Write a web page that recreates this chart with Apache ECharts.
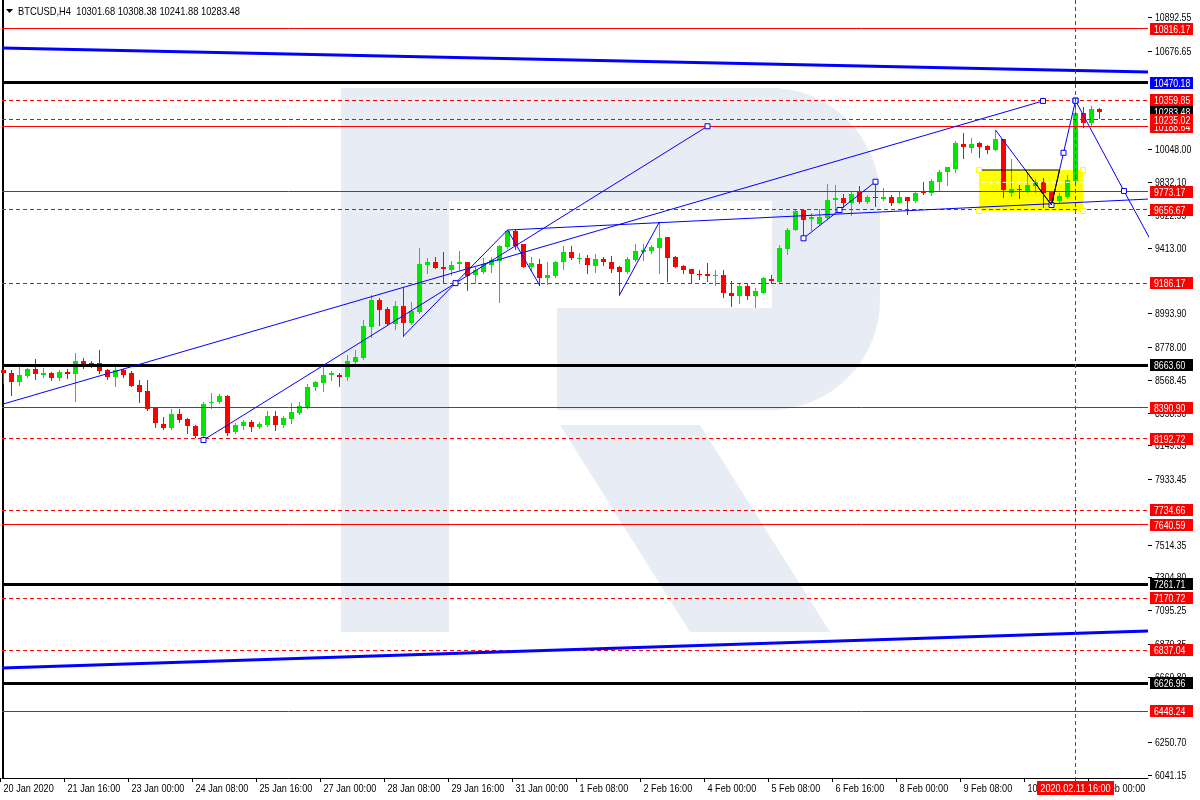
<!DOCTYPE html>
<html><head><meta charset="utf-8"><title>BTCUSD,H4</title>
<script src="https://cdn.jsdelivr.net/npm/echarts@6.0.0/dist/echarts.min.js"></script>
<style>html,body{margin:0;padding:0;background:#fff;}#chart{width:1200px;height:800px;}</style>
</head><body><div id="chart"></div>
<script>
const symbolName = 'BTCUSD,H4';
const opens  = [8632,8615,8557,8596,8636,8602,8615,8579,8621,8605,8690,8679,8675,8632,8585,8632,8615,8536,8498,8387,8286,8263,8350,8318,8274,8210,8419,8429,8466,8237,8274,8301,8269,8280,8338,8280,8318,8359,8397,8521,8551,8598,8602,8585,8685,8707,8909,9080,9022,8926,9042,8935,9005,9306,9325,9289,9272,9308,9321,9240,9261,9304,9332,9421,9524,9438,9293,9310,9223,9236,9321,9385,9342,9351,9300,9342,9325,9293,9261,9336,9389,9394,9415,9481,9357,9300,9278,9246,9244,9236,9240,9127,9106,9170,9106,9127,9214,9197,9406,9528,9656,9597,9566,9603,9720,9731,9703,9769,9709,9741,9726,9737,9703,9737,9716,9769,9763,9837,9897,9917,10078,10055,10083,10066,10040,10108,9763,9790,9778,9810,9833,9769,9716,9737,9844,10275,10211,10301.68];
const highs  = [8638,8632,8653,8643,8702,8643,8621,8632,8636,8739,8707,8688,8760,8636,8649,8638,8628,8568,8568,8390,8329,8380,8380,8322,8278,8429,8483,8478,8472,8291,8312,8312,8301,8372,8372,8338,8423,8429,8542,8564,8658,8628,8611,8728,8760,8952,9112,9091,9033,9076,9155,9069,9413,9347,9357,9385,9330,9396,9325,9293,9347,9353,9432,9528,9528,9440,9357,9341,9325,9332,9426,9426,9379,9368,9374,9353,9362,9296,9353,9438,9438,9432,9581,9485,9360,9303,9281,9272,9315,9272,9272,9202,9182,9182,9155,9229,9240,9432,9539,9656,9660,9635,9660,9822,9816,9756,9773,9810,9752,9837,9795,9752,9780,9740,9773,9833,9852,9912,9933,10100,10151,10115,10093,10069,10168,10111,9980,9816,9895,9852,9859,9772,9763,9880,10358,10317,10322,10308.38];
const lows   = [8551,8472,8536,8590,8572,8589,8568,8568,8579,8436,8643,8653,8611,8572,8532,8589,8528,8429,8375,8269,8254,8252,8301,8231,8205,8184,8387,8419,8216,8231,8252,8244,8259,8274,8248,8265,8291,8350,8387,8504,8500,8568,8530,8568,8670,8702,8841,8920,8922,8894,8850,8926,9000,9251,9283,9187,9240,9272,9144,9187,9251,9257,9069,9411,9404,9289,9268,9176,9182,9229,9276,9342,9315,9251,9261,9304,9261,9112,9251,9332,9336,9379,9251,9202,9290,9251,9191,9212,9204,9176,9101,9043,9063,9086,9037,9123,9187,9195,9374,9525,9475,9528,9560,9600,9645,9677,9624,9703,9699,9684,9720,9688,9699,9629,9705,9758,9754,9780,9816,9899,9987,10029,9993,10019,10037,9737,9748,9731,9773,9773,9677,9688,9699,9735,9840,10189,10200,10241.88];
const closes = [8611,8557,8600,8638,8605,8611,8579,8621,8608,8690,8668,8670,8628,8585,8632,8600,8532,8493,8380,8291,8263,8350,8312,8274,8212,8414,8429,8466,8231,8280,8301,8269,8286,8338,8280,8323,8365,8402,8525,8557,8600,8611,8585,8690,8717,8914,9080,9016,8926,9042,8935,9010,9310,9323,9287,9276,9304,9325,9236,9272,9310,9336,9426,9524,9426,9293,9315,9223,9240,9325,9385,9347,9347,9304,9341,9321,9278,9261,9341,9394,9400,9421,9475,9347,9293,9272,9246,9240,9236,9240,9123,9106,9170,9106,9138,9219,9202,9415,9528,9652,9592,9609,9609,9720,9735,9699,9756,9709,9741,9737,9737,9699,9737,9716,9767,9763,9844,9901,9929,10087,10057,10078,10061,10040,10108,9784,9790,9782,9816,9833,9767,9716,9746,9848,10275,10211,10300,10283.48];

const timeLabels = ['20 Jan 2020','21 Jan 16:00','23 Jan 00:00','24 Jan 08:00','25 Jan 16:00','27 Jan 00:00','28 Jan 08:00','29 Jan 16:00','31 Jan 00:00','1 Feb 08:00','2 Feb 16:00','4 Feb 00:00','5 Feb 08:00','6 Feb 16:00','8 Feb 00:00','9 Feb 08:00','10 Feb 16:00','12 Feb 00:00'];
const barsPerTimeLabel = 8;
const priceTicks = [10892.55,10676.65,10048.00,9832.10,9622.55,9413.00,8993.90,8778.00,8568.45,8358.90,8149.35,7933.45,7514.35,7304.80,7095.25,6879.35,6669.80,6250.70,6041.15];

const redSolidLevels  = [10816.17,10188.64,9773.17,8390.90,7640.59,6448.24];
const redDashedLevels = [10359.85,10235.02,9656.67,9186.17,8192.72,7734.66,7170.72,6837.04];
const blackLevels     = [10470.18,8663.60,7261.71,6626.96];
const blueTagLevels   = [10470.18];
const blackTagLevels  = [8663.60,7261.71,6626.96];
const lastPrice = 10283.48;

const cursorBar = 134;
const cursorLabel = '2020.02.11 16:00';

// trendlines: [barIndex, price]
const channelTop    = [[-0.19,10693],[143.06,10539]];
const channelBottom = [[-0.19,6725],[143.06,6962]];
const trendA = [[-0.06,8414],[129.94,10354]];
const trendB = [[25,8184],[56.5,9188],[88,10192]];
const zigzag1 = [[50,8850],[63,9528],[67,9176]];
const zigzag2 = [[77,9112],[82,9581]];
const trendC = [[63,9528],[143.06,9726]];
const trendE = [[100,9475],[104.5,9656],[109,9837]];
const trendF = [[124,10168],[131,9688]];
const trendF2 = [[131,9688],[132.5,10022],[134,10356]];
const trendG = [[134,10356],[140.06,9778],[146.15,9202]];
const innerBlack1 = [[127.73,9912],[131,9688],[132.0,9912]];
const innerBlack2 = [[122.27,9912],[132.0,9912]];
const innerWhiteDash = [[122.27,9833],[134.9,9833]];
const boxRange = [121.94,9912,134.94,9652];

const X_MIN = -0.1875, X_MAX = 143.0625, Y_MIN = 6020.8, Y_MAX = 11000;
const FONT = '"Liberation Sans",Arial,sans-serif';
const AX_FONT = '11px ' + FONT;
const NUM_SX = 0.79, TIME_SX = 0.83;
const BULL = '#00e600', BEAR = '#ff0000', BLUE = '#0000ff', RED = '#ff0000';

const chart = echarts.init(document.getElementById('chart'), null, {renderer:'canvas', width:1200, height:800});

const candleData = opens.map((o,i)=>[i,o,closes[i],lows[i],highs[i]]);

function txt(x, y, text, fill, align, sx){
  return {type:'text', x:x, y:y, scaleX:sx, style:{x:0, y:0, text:text, fill:fill, font:AX_FONT, align:align, verticalAlign:'middle'}};
}
function levelSeries(values, color, width, dash, z){
  return {type:'custom', coordinateSystem:'cartesian2d', data:values.map(v=>[0,v]), z, silent:true, clip:false,
    renderItem(params, api){
      const cs=params.coordSys; const y=api.coord([0,api.value(1)])[1];
      const yy = (width%2===1) ? Math.round(y-0.5)+0.5 : Math.round(y);
      return {type:'line', shape:{x1:cs.x, y1:yy, x2:cs.x+cs.width, y2:yy}, style:{stroke:color, lineWidth:width, lineDash:dash||null}};
    }};
}
function tagSeries(values, bg, z){
  return {type:'custom', coordinateSystem:'cartesian2d', data:values.map(v=>[0,v]), z, silent:true, clip:false,
    renderItem(params, api){
      const cs=params.coordSys; const v=api.value(1); const y=Math.round(api.coord([0,v])[1]);
      const x0=cs.x+cs.width;
      return {type:'group', children:[
        {type:'rect', shape:{x:x0+2, y:y-6, width:43, height:12}, style:{fill:bg}},
        txt(x0+6, y+0.5, v.toFixed(2), '#fff', 'left', NUM_SX)
      ]};
    }};
}
function trend(points, color, width, squares, z, dash){
  return {type:'line', data:points.map((p,k)=>({value:p, symbol:(squares||[]).includes(k)?'rect':'none'})),
    symbolSize:5, showSymbol:true, showAllSymbol:true, animation:false, silent:true, z:z||10,
    lineStyle:{color, width, type: dash||'solid'}, itemStyle:{color:'#fff', borderColor:color, borderWidth:1}, emphasis:{disabled:true}};
}

const titleText = symbolName+'  '+[opens[opens.length-1],highs[highs.length-1],lows[lows.length-1],closes[closes.length-1]].map(v=>v.toFixed(2)).join(' ');

const option = {
  backgroundColor:'#ffffff',
  animation:false,
  grid:{left:2, right:52, top:0, bottom:22},
  xAxis:{type:'value', min:X_MIN, max:X_MAX, axisLine:{show:true, onZero:false, lineStyle:{color:'#000', width:1}}, axisTick:{show:false}, axisLabel:{show:false}, splitLine:{show:false}},
  yAxis:[
    {type:'value', position:'right', min:Y_MIN, max:Y_MAX, axisLine:{show:true, lineStyle:{color:'#000'}}, axisTick:{show:false}, axisLabel:{show:false}, splitLine:{show:false}},
    {type:'value', position:'left', min:Y_MIN, max:Y_MAX, axisLine:{show:true, lineStyle:{color:'#000'}}, axisTick:{show:false}, axisLabel:{show:false}, splitLine:{show:false}}
  ],
  graphic:{elements:[
    {type:'polygon', z:-10, shape:{points:[[6,9],[13,9],[9.5,13]]}, style:{fill:'#000'}},
    {type:'text', z:50, x:18, y:11.5, scaleX:0.85, style:{x:0, y:0, text:titleText, font:'11px '+FONT, fill:'#000', verticalAlign:'middle'}},
    // watermark
    {type:'rect', z:-10, shape:{x:341,y:88,width:108,height:544}, style:{fill:'#e8ecf5'}},
    {type:'rect', z:-10, shape:{x:449,y:88,width:330,height:113}, style:{fill:'#e8ecf5'}},
    {type:'rect', z:-10, shape:{x:557,y:308,width:222,height:102}, style:{fill:'#e8ecf5'}},
    {type:'rect', z:-10, shape:{x:700,y:88,width:180,height:322, r:[0,110,110,0]}, style:{fill:'#e8ecf5'}},
    {type:'rect', z:-9, shape:{x:700,y:201,width:72,height:107}, style:{fill:'#ffffff'}},
    {type:'polygon', z:-10, shape:{points:[[560,425],[700,425],[830,632],[690,632]]}, style:{fill:'#e8ecf5'}}
  ]},
  series:[
    {type:'custom', coordinateSystem:'cartesian2d', data:[boxRange], z:1, silent:true,
      renderItem(params, api){
        const a=api.coord([api.value(0),api.value(1)]), b=api.coord([api.value(2),api.value(3)]);
        return {type:'rect', shape:{x:Math.round(a[0]), y:Math.round(a[1]), width:Math.round(b[0]-a[0]), height:Math.round(b[1]-a[1])}, style:{fill:'#ffff00'}};
      }},
    {type:'custom', coordinateSystem:'cartesian2d', data:candleData, z:5, silent:true,
      renderItem(params, api){
        const i=api.value(0), o=api.value(1), c=api.value(2), l=api.value(3), h=api.value(4);
        const pO=api.coord([i,o]), pC=api.coord([i,c]), pL=api.coord([i,l]), pH=api.coord([i,h]);
        const x=pO[0]; const col = c>=o ? BULL : BEAR;
        const yT=Math.round(Math.min(pO[1],pC[1])), yB=Math.round(Math.max(pO[1],pC[1]));
        return {type:'group', children:[
          {type:'line', shape:{x1:x, y1:Math.round(pH[1]), x2:x, y2:Math.round(pL[1])+1}, style:{stroke:col, lineWidth:1}},
          {type:'rect', shape:{x:x-2.5, y:yT, width:5, height:Math.max(1,yB-yT)}, style:{fill:col}}
        ]};
      }},
    levelSeries(redSolidLevels, RED, 1, null, 8),
    levelSeries(redDashedLevels, RED, 1, [4,3], 8),
    levelSeries(blackLevels, '#000', 3, null, 8),
    trend(channelTop, BLUE, 3, [], 9),
    trend(channelBottom, BLUE, 3, [], 9),
    trend(trendA, BLUE, 1, [1]),
    trend(trendB, BLUE, 1, [0,1,2]),
    trend(zigzag1, BLUE, 1, []),
    trend(zigzag2, BLUE, 1, []),
    trend(trendC, BLUE, 1, []),
    trend(trendE, BLUE, 1, [0,1,2]),
    trend(trendF, BLUE, 1, []),
    trend(trendF2, BLUE, 1, [0,1,2]),
    trend(trendG, BLUE, 1, [0,1]),
    trend(innerBlack1, '#000', 1, [], 11),
    trend(innerBlack2, '#000', 1, [], 11),
    trend(innerWhiteDash, '#fff', 1, [], 11, [4,3]),
    {type:'custom', coordinateSystem:'cartesian2d', z:12, silent:true, clip:false,
      data:[[boxRange[0],boxRange[1]],[boxRange[2],boxRange[1]],[boxRange[0],boxRange[3]],[boxRange[2],boxRange[3]]],
      renderItem(params, api){
        const p=api.coord([api.value(0),api.value(1)]);
        return {type:'rect', shape:{x:Math.round(p[0])-2.5, y:Math.round(p[1])-2.5, width:5, height:5}, style:{fill:'#fff', stroke:'#ffff00', lineWidth:1}};
      }},
    {type:'custom', coordinateSystem:'cartesian2d', data:[[cursorBar, Y_MIN]], z:13, silent:true, clip:false,
      renderItem(params, api){
        const cs=params.coordSys; const x=Math.round(api.coord([api.value(0),Y_MIN])[0]-0.5)+0.5;
        const yb=cs.y+cs.height;
        return {type:'group', children:[
          {type:'line', shape:{x1:x, y1:cs.y, x2:x, y2:yb+3}, style:{stroke:RED, lineWidth:1, lineDash:[4,3]}},
          {type:'rect', shape:{x:x-38.5, y:yb+3, width:77, height:14}, style:{fill:RED}},
          txt(x, yb+10.5, cursorLabel, '#fff', 'center', TIME_SX)
        ]};
      }},
    {type:'custom', coordinateSystem:'cartesian2d', data:timeLabels.map((t,k)=>[k*barsPerTimeLabel, Y_MIN]), z:12, silent:true, clip:false,
      renderItem(params, api){
        const cs=params.coordSys; const xb=api.coord([api.value(0),Y_MIN])[0];
        const tx=Math.round(xb-3.5)+0.5; const yb=cs.y+cs.height;
        return {type:'group', children:[
          {type:'line', shape:{x1:tx, y1:yb, x2:tx, y2:yb+4}, style:{stroke:'#000', lineWidth:1}},
          txt(tx+3, yb+10.5, timeLabels[params.dataIndex], '#000', 'left', TIME_SX)
        ]};
      }},
    {type:'custom', coordinateSystem:'cartesian2d', data:priceTicks.map(v=>[0,v]), z:20, silent:true, clip:false,
      renderItem(params, api){
        const cs=params.coordSys; const v=api.value(1); const y=Math.round(api.coord([0,v])[1]);
        const x0=cs.x+cs.width;
        return {type:'group', children:[
          {type:'line', shape:{x1:x0, y1:y+0.5, x2:x0+4, y2:y+0.5}, style:{stroke:'#000', lineWidth:1}},
          txt(x0+7, y+0.5, v.toFixed(2), '#000', 'left', NUM_SX)
        ]};
      }},
    tagSeries([lastPrice], '#000', 21),
    tagSeries(redSolidLevels.concat(redDashedLevels), RED, 22),
    tagSeries(blackTagLevels, '#000', 22),
    tagSeries(blueTagLevels, BLUE, 22)
  ]
};
chart.setOption(option);
</script></body></html>
